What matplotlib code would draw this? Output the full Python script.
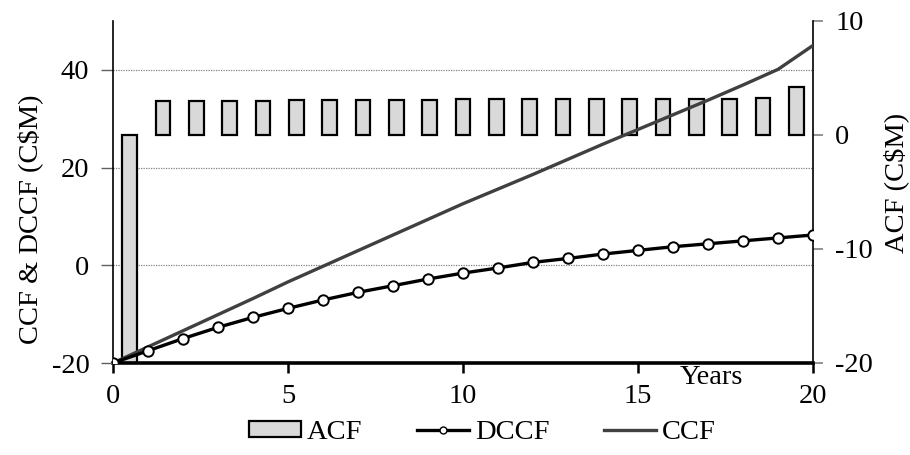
import numpy as np
import matplotlib
matplotlib.use("Agg")
import matplotlib.pyplot as plt
from matplotlib import transforms
from matplotlib.patches import Patch
from matplotlib.lines import Line2D

plt.rcParams['font.family'] = ['Liberation Serif', 'DejaVu Serif']
plt.rcParams['axes.unicode_minus'] = False
FS = 20.5

years = list(range(21))
acf = [-20, 3.0, 3.0, 3.0, 3.02, 3.05, 3.08, 3.1, 3.1, 3.1, 3.12, 3.13, 3.13,
       3.15, 3.15, 3.16, 3.17, 3.18, 3.2, 3.21, 4.25]
dccf = [-20, -17.5, -15.0, -12.7, -10.66, -8.82, -7.1, -5.54, -4.18, -2.81, -1.6,
        -0.55, 0.6, 1.4, 2.3, 3.05, 3.8, 4.4, 5.0, 5.6, 6.2]
ccf = [-20, -16.7, -13.4, -10.1, -6.8, -3.4, -0.2, 3.0, 6.2, 9.4, 12.6, 15.6,
       18.6, 21.7, 24.8, 27.8, 30.8, 33.8, 36.9, 40.1, 45.0]
x_ticks = [0, 5, 10, 15, 20]
left_ticks = [-20, 0, 20, 40]
right_ticks = [-20, -10, 0, 10]

fig = plt.figure(figsize=(9.1, 4.55), dpi=100)
axB = fig.add_axes([113/910, 1-363/455, 700/910, 342/455])
axL = axB.twinx()

# bars (ACF) on right scale, categories span the x range
n = len(years)
bar_x = (np.arange(n) + 0.5) * (years[-1] - years[0]) / n + years[0]
axB.bar(bar_x, acf, width=0.42, color='#d9d9d9', edgecolor='black', linewidth=1.6, zorder=2)
axB.set_ylim(-20, 10)
axB.set_xlim(0, 20)
axB.yaxis.tick_right()
axB.yaxis.set_label_position('right')
axB.set_yticks(right_ticks)
axB.tick_params(axis='y', direction='out', length=7, width=1.2, color='#808080',
                labelsize=FS, pad=9)
axB.set_xticks(x_ticks)
axB.tick_params(axis='x', direction='out', length=7, width=1.8, color='black',
                labelsize=FS, pad=8)
axB.set_ylabel('ACF (C$M)', fontsize=FS)
axB.yaxis.set_label_coords(1.100, 0.526)

# lines on left scale
axL.set_ylim(-20, 50)
axL.yaxis.tick_left()
axL.yaxis.set_label_position('left')
axL.set_yticks(left_ticks)
axL.tick_params(axis='y', direction='out', length=9, width=1.0, color='#606060',
                labelsize=FS, pad=8)
axL.set_ylabel('CCF & DCCF (C$M)', fontsize=FS)
axL.yaxis.set_label_coords(-0.10, 0.42)

# gridlines behind bars
tr = transforms.blended_transform_factory(axB.transAxes, axL.transData)
for g in [0, 20, 40]:
    axB.plot([0, 1], [g, g], transform=tr, color='#808080', lw=0.9,
             linestyle=(0, (1, 1)), zorder=1)

axL.plot(years, ccf, color='#404040', lw=2.4, zorder=3)
axL.plot(years, dccf, color='black', lw=2.4, marker='o', markersize=7.5,
         markerfacecolor='white', markeredgecolor='black', markeredgewidth=1.4, zorder=4)

for a in (axB, axL):
    a.spines['top'].set_visible(False)
axL.spines['bottom'].set_visible(False)
axL.spines['right'].set_visible(False)
axB.spines['left'].set_visible(False)
axB.spines['bottom'].set_linewidth(2.6)
axB.spines['right'].set_linewidth(1.2)
axL.spines['left'].set_linewidth(1.2)
axB.spines['bottom'].set_zorder(5)

axB.text(0.855, -0.005, 'Years', transform=axB.transAxes, fontsize=FS,
         ha='center', va='top')

handles = [Patch(facecolor='#d9d9d9', edgecolor='black', linewidth=1.6),
           Line2D([], [], color='black', lw=2.4, marker='o', markersize=5,
                  markerfacecolor='white', markeredgecolor='black'),
           Line2D([], [], color='#404040', lw=2.4)]
fig.legend(handles, ['ACF', 'DCCF', 'CCF'], loc='lower center', ncol=3,
           bbox_to_anchor=(0.53, -0.035), frameon=False, fontsize=FS,
           handlelength=1.85, handleheight=0.5, handletextpad=0.2,
           columnspacing=1.9)

fig.savefig('out.png', dpi=100)
